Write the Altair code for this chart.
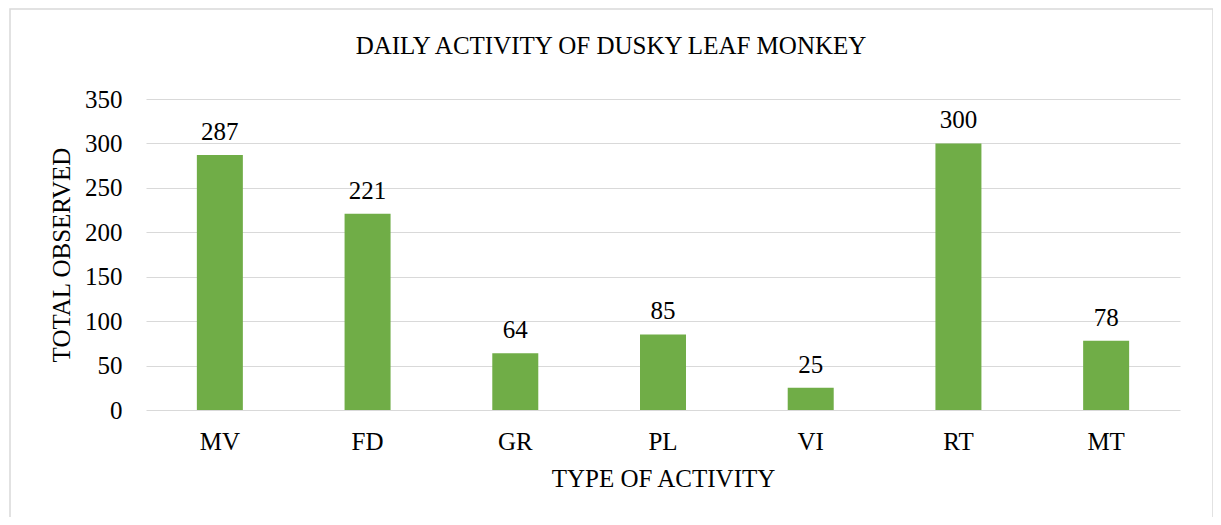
import altair as alt
import pandas as pd

categories = ["MV", "FD", "GR", "PL", "VI", "RT", "MT"]
values = [287, 221, 64, 85, 25, 300, 78]
y_ticks = [0, 50, 100, 150, 200, 250, 300, 350]
title_text = "DAILY ACTIVITY OF DUSKY LEAF MONKEY"

df = pd.DataFrame({"activity": categories, "count": values})

FONT = "Liberation Serif"
W, H = 1034, 311

x_enc = alt.X("activity:N", sort=categories,
              axis=alt.Axis(title="TYPE OF ACTIVITY", labelAngle=0, domain=False, ticks=False,
                            labelPadding=19, titlePadding=12, labelFontSize=25, titleFontSize=25,
                            labelFont=FONT, titleFont=FONT, labelColor="black", titleColor="black",
                            titleFontWeight="normal"),
              scale=alt.Scale(paddingInner=0, paddingOuter=0))
y_enc = alt.Y("count:Q",
              scale=alt.Scale(domain=[0, 350], nice=False),
              axis=alt.Axis(title="TOTAL OBSERVED", values=y_ticks, domain=False, ticks=False,
                            labelPadding=24, titlePadding=10, labelFontSize=25, titleFontSize=25,
                            labelFont=FONT, titleFont=FONT, labelColor="black", titleColor="black",
                            titleFontWeight="normal", gridColor="#d9d9d9", gridWidth=1))

border = alt.Chart(pd.DataFrame({"a": [0]})).mark_rect(
    fill=None, stroke="#d9d9d9", strokeWidth=1.5, clip=False
).encode(x=alt.value(-136), x2=alt.value(1067), y=alt.value(-90), y2=alt.value(422))

bars = alt.Chart(df).mark_bar(size=46, color="#70AD47").encode(x=x_enc, y=y_enc)

labels = alt.Chart(df).mark_text(
    font=FONT, fontSize=25, color="black", baseline="alphabetic", dy=-15
).encode(x=alt.X("activity:N", sort=categories), y="count:Q", text="count:Q")

chart = alt.layer(border, bars, labels).properties(
    width=W, height=H,
    title=alt.TitleParams(title_text, font=FONT, fontSize=25, fontWeight="normal",
                          color="black", anchor="middle", dx=-52, offset=-71,
                          baseline="alphabetic"),
    autosize=alt.AutoSizeParams(type="none"),
    padding={"left": 138, "top": 91, "right": 33, "bottom": 107},
).configure(
    background="white", font=FONT
).configure_view(stroke=None)

chart.save("out.html", embed_options={"renderer": "svg", "actions": False})
